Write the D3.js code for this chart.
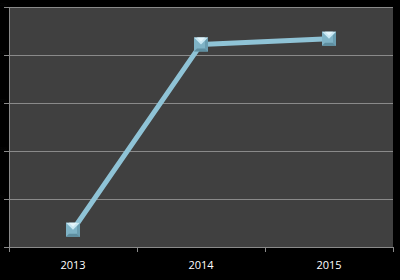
<!DOCTYPE html>
<html>
<head>
<meta charset="utf-8">
<script src="https://cdn.jsdelivr.net/npm/d3@7"></script>
<style>
  body { margin: 0; background: #000; }
  svg { display: block; }
</style>
</head>
<body>
<div id="chart"></div>
<script>
// chart data
var years = ["2013", "2014", "2015"];
var values = [18, 211, 217];
var yTicks = [0, 50, 100, 150, 200, 250];

var width = 400, height = 280;
var margin = { top: 7, right: 7, bottom: 33, left: 9 };
var plotW = width - margin.left - margin.right;
var plotH = height - margin.top - margin.bottom;

var svg = d3.select("#chart")
  .append("svg")
  .attr("width", width)
  .attr("height", height);

svg.append("rect")
  .attr("width", width)
  .attr("height", height)
  .style("fill", "#000");

var g = svg.append("g")
  .attr("transform", "translate(" + margin.left + "," + margin.top + ")");

var x = d3.scaleBand().domain(years).range([0, plotW]);
var y = d3.scaleLinear().domain([0, 250]).range([plotH, 0]);

// plot area
g.append("rect")
  .attr("width", plotW)
  .attr("height", plotH)
  .style("fill", "#404040");

// gridlines
g.selectAll(".grid")
  .data(yTicks.slice(1))
  .enter().append("line")
  .attr("class", "grid")
  .attr("x1", 0)
  .attr("x2", plotW)
  .attr("y1", function(d) { return Math.round(y(d)) + 0.5; })
  .attr("y2", function(d) { return Math.round(y(d)) + 0.5; })
  .style("stroke", "#8a8a8a")
  .style("stroke-width", 1);

// y axis (labels black on black, like the original)
var yAxis = g.append("g")
  .call(d3.axisLeft(y).tickValues(yTicks).tickSize(5).tickPadding(2));
yAxis.select(".domain").style("stroke", "#8a8a8a");
yAxis.selectAll(".tick line").style("stroke", "#8a8a8a");
yAxis.selectAll("text")
  .attr("x", -margin.left)
  .attr("dy", "-0.3em")
  .attr("text-anchor", "start")
  .style("fill", "#0b0b0b")
  .style("font-family", "Liberation Sans, Arial, sans-serif")
  .style("font-size", "4px");

// x axis with ticks at category boundaries
var xAxis = g.append("g")
  .attr("transform", "translate(0," + plotH + ")");
xAxis.append("line")
  .attr("x1", 0).attr("x2", plotW)
  .attr("y1", 0.5).attr("y2", 0.5)
  .style("stroke", "#8a8a8a");
var bounds = years.map(function(d) { return x(d); }).concat([plotW]);
xAxis.selectAll(".xtick")
  .data(bounds)
  .enter().append("line")
  .attr("class", "xtick")
  .attr("x1", function(d) { return Math.round(d) + 0.5; })
  .attr("x2", function(d) { return Math.round(d) + 0.5; })
  .attr("y1", 0).attr("y2", 5)
  .style("stroke", "#8a8a8a");
xAxis.selectAll(".xlabel")
  .data(years)
  .enter().append("text")
  .attr("class", "xlabel")
  .attr("x", function(d) { return x(d) + x.bandwidth() / 2; })
  .attr("y", 22)
  .attr("text-anchor", "middle")
  .style("fill", "#fff")
  .style("font-family", "Open Sans, Arial, sans-serif")
  .style("font-size", "11px")
  .text(function(d) { return d; });

// line
var line = d3.line()
  .x(function(d, i) { return x(years[i]) + x.bandwidth() / 2; })
  .y(function(d) { return y(d); });

g.append("path")
  .datum(values)
  .attr("d", line)
  .style("fill", "none")
  .style("stroke", "#8fc3d6")
  .style("stroke-width", 5)
  .style("stroke-linejoin", "round");

// beveled square markers
var s = 7;
var markers = g.selectAll(".marker")
  .data(values)
  .enter().append("g")
  .attr("class", "marker")
  .attr("transform", function(d, i) {
    return "translate(" + (x(years[i]) + x.bandwidth() / 2) + "," + y(d) + ")";
  });

markers.append("rect")
  .attr("x", -s).attr("y", -s)
  .attr("width", 2 * s).attr("height", 2 * s)
  .style("fill", "#7fb3c6");
// bottom facet
markers.append("path")
  .attr("d", "M" + (-s) + "," + s + "L" + s + "," + s + "L" + (s - 3) + "," + (s - 3) + "L" + (-s + 3) + "," + (s - 3) + "Z")
  .style("fill", "#5e8ea0");
// right facet
markers.append("path")
  .attr("d", "M" + s + "," + (-s) + "L" + s + "," + s + "L" + (s - 3) + "," + (s - 3) + "L" + (s - 3) + "," + (-s + 3) + "Z")
  .style("fill", "#6a9db0");
// top light triangle
markers.append("path")
  .attr("d", "M" + (-s) + "," + (-s) + "L" + s + "," + (-s) + "L0,0Z")
  .style("fill", "#c9e8f3");
markers.append("path")
  .attr("d", "M" + (-s + 3) + "," + (-s) + "L" + (s - 3) + "," + (-s) + "L0," + (-3) + "Z")
  .style("fill", "#e4f5fb");
</script>
</body>
</html>
